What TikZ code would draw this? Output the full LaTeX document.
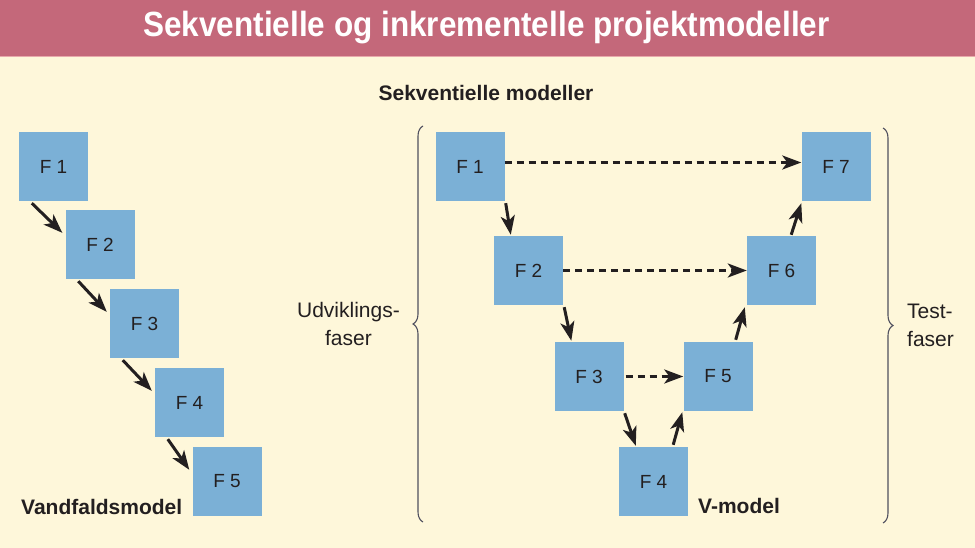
\documentclass[tikz,border=0pt]{standalone}
\usepackage{fontspec}
\setmainfont{Liberation Sans}
\usepackage{graphicx}
\usetikzlibrary{arrows.meta, positioning, decorations.pathreplacing}
\definecolor{bgcream}{HTML}{FEF7DA}
\definecolor{headrose}{HTML}{C4687A}
\definecolor{headline}{HTML}{E8A9AC}
\definecolor{phaseblue}{HTML}{7BB0D6}
\definecolor{inkdark}{HTML}{231F20}
\definecolor{bracegray}{HTML}{50505F}

\begin{document}
\begin{tikzpicture}[x=1pt, y=-1pt,
    phase/.style={fill=phaseblue, minimum size=69pt, inner sep=0pt,
                  text=inkdark, font=\fontsize{19}{19}\selectfont},
    flow/.style={line width=3pt, inkdark, -{Stealth[length=19pt, width=14pt, inset=5pt]}},
    link/.style={flow, dash pattern=on 7pt off 5pt},
    fasebrace/.style={decorate, decoration={brace, amplitude=10pt}, line width=1.1pt, bracegray},
    caption/.style={inner sep=0pt, text=inkdark, font=\fontsize{21}{21}\selectfont\bfseries},
    sidetext/.style={inner sep=0pt, text=inkdark, font=\fontsize{21}{28}\selectfont}]
  \useasboundingbox (0,0) rectangle (975,548);
  % background and header band
  \fill[bgcream] (0,0) rectangle (975,548);
  \fill[headrose] (0,0) rectangle (975,56);
  \draw[headline, line width=1pt] (0,56.5) -- (975,56.5);
  \node[text=white, font=\fontsize{35}{35}\selectfont\bfseries] (title) at (486.5,28)
      {\scalebox{0.9}[1]{Sekventielle og inkrementelle projektmodeller}};
  \node[caption, anchor=base] (sekv) at (486,101) {Sekventielle modeller};

  % waterfall model
  \node[phase] (w1) at (53.5,166.5) {F 1};
  \node[phase] (w2) at (100,244.5) {F 2};
  \node[phase] (w3) at (144.5,323.5) {F 3};
  \node[phase] (w4) at (189.5,402.5) {F 4};
  \node[phase] (w5) at (227,481.5) {F 5};
  \foreach \a/\b in {w1/w2, w2/w3, w3/w4, w4/w5}
    \draw[flow] ([shift={(13,2)}]\a.south west) -- ([shift={(-3,23)}]\b.north west);
  \node[caption, anchor=base west] (vandlbl) at (21,514) {Vandfaldsmodel};

  % V-model
  \node[phase] (v1) at (470,166.5) {F 1};
  \node[phase] (v2) at (528.5,270.5) {F 2};
  \node[phase] (v3) at (589,376.5) {F 3};
  \node[phase] (v4) at (653.5,481.5) {F 4};
  \node[phase] (v5) at (718,376.5) {F 5};
  \node[phase] (v6) at (781.5,270.5) {F 6};
  \node[phase] (v7) at (836,166.5) {F 7};
  % down the left leg
  \foreach \a/\b in {v1/v2, v2/v3, v3/v4}
    \draw[flow] ([shift={(1,2)}]\a.south east) -- ([shift={(17,-1)}]\b.north west);
  % up the right leg
  \draw[flow] ([shift={(-15,-2)}]v4.north east) -- ([shift={(-1,1)}]v5.south west);
  \draw[flow] ([shift={(-17,-2)}]v5.north east) -- ([shift={(-2,2)}]v6.south west);
  \draw[flow] ([shift={(-25,-1)}]v6.north east) -- ([shift={(0,2)}]v7.south west);
  % test links across the V
  \draw[link] ([shift={(0,-4)}]v1.east) -- ([shift={(0,-4)}]v7.west);
  \draw[link] (v2.east) -- (v6.west);
  \draw[link] ([xshift=2pt]v3.east) -- (v5.west);
  \node[caption, anchor=base west] (vlbl) at (698,513) {V-model};

  % braces
  \draw[fasebrace] (423,522) -- (423,126) coordinate[pos=0.5] (udvmid);
  \draw[fasebrace] (883,128) -- (883,523) coordinate[pos=0.5] (testmid);
  \coordinate (udvtip) at ([xshift=-10pt]udvmid);
  \coordinate (testtip) at ([xshift=10pt]testmid);
  \node[sidetext, align=center, left=13pt of udvtip] (udv) {Udviklings-\\faser};
  \node[sidetext, align=left, right=14pt of testtip] (test) {Test-\\faser};
\end{tikzpicture}
\end{document}
